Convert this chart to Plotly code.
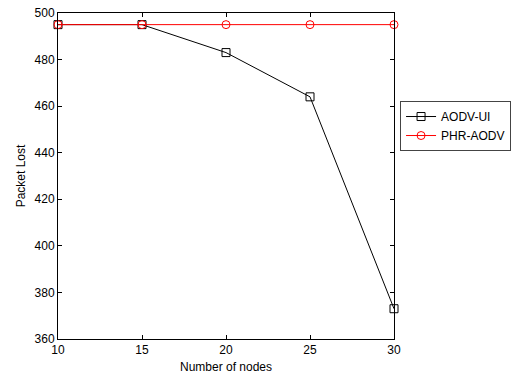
import plotly.graph_objects as go

nodes = [10, 15, 20, 25, 30]
aodv_ui = [495, 495, 483, 464, 373]
phr_aodv = [495, 495, 495, 495, 495]

fig = go.Figure()
fig.add_trace(go.Scatter(x=nodes, y=aodv_ui, name="AODV-UI", mode="lines+markers",
                         line=dict(color="black", width=1),
                         marker=dict(symbol="square-open", size=8, color="black", line=dict(width=1))))
fig.add_trace(go.Scatter(x=nodes, y=phr_aodv, name="PHR-AODV", mode="lines+markers",
                         line=dict(color="red", width=1),
                         marker=dict(symbol="circle-open", size=8, color="red", line=dict(width=1))))

axis_common = dict(showgrid=False, zeroline=False, showline=True, linecolor="black", linewidth=1,
                   mirror="ticks", ticks="inside", ticklen=4, tickcolor="black", automargin=False,
                   tickfont=dict(family="Liberation Sans, Arial", size=12, color="black"))
fig.update_layout(
    width=524, height=376,
    margin=dict(l=58, r=130, t=13, b=37),
    paper_bgcolor="white", plot_bgcolor="white",
    font=dict(family="Liberation Sans, Arial", size=11, color="black"),
    xaxis=dict(range=[10, 30], tickvals=[10, 15, 20, 25, 30],
               title=dict(text="Number of nodes", standoff=6, font=dict(size=12)), **axis_common),
    yaxis=dict(range=[360, 500], tickvals=[360, 380, 400, 420, 440, 460, 480, 500],
               title=dict(text="Packet Lost", standoff=6, font=dict(size=12)), **axis_common),
    legend=dict(x=1.018, y=0.73, xanchor="left", yanchor="top", bgcolor="white",
                bordercolor="#444", borderwidth=1, font=dict(size=12),
                tracegroupgap=0, itemwidth=30),
    showlegend=True,
)
fig.update_traces(cliponaxis=False)
fig.write_html("out.html")
